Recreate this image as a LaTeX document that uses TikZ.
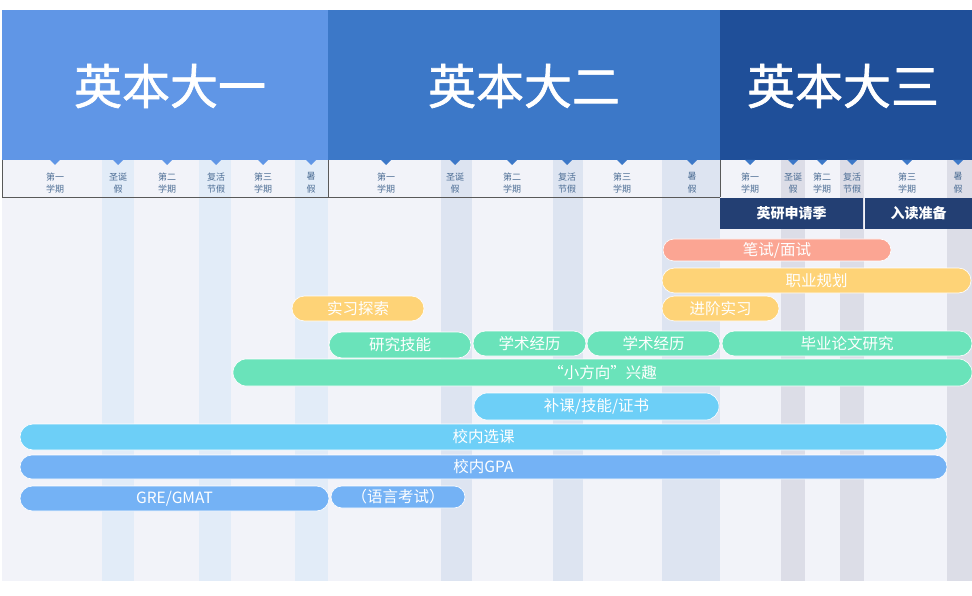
\documentclass[tikz,border=0pt]{standalone}
\usepackage{fontspec}
\setmainfont{Noto Sans CJK SC}
\newfontfamily\headfont{Noto Sans CJK SC}[FakeBold=1.3]
\usepackage{xcolor}
\usetikzlibrary{positioning, shapes.misc}

\definecolor{headA}{HTML}{6096E6}
\definecolor{headB}{HTML}{3C78C8}
\definecolor{headC}{HTML}{1F4F99}
\definecolor{panel}{HTML}{F2F3F9}
\definecolor{stripA}{HTML}{E2ECF8}
\definecolor{stripB}{HTML}{DDE4F1}
\definecolor{stripC}{HTML}{DCDDE7}
\definecolor{termtext}{HTML}{4D6E95}
\definecolor{navy}{HTML}{233F73}
\definecolor{salmon}{HTML}{FBA593}
\definecolor{sun}{HTML}{FED377}
\definecolor{mint}{HTML}{6AE3BA}
\definecolor{sky}{HTML}{6DCFF7}
\definecolor{azure}{HTML}{74B2F5}

\begin{document}
\begin{tikzpicture}[x=1pt, y=-1pt,
    bar/.style={rounded rectangle, minimum height=25, inner sep=0pt, text=white,
      draw=white, line width=0.6pt, font=\fontsize{15.5}{15.5}\selectfont},
    term/.style={align=center, text=termtext, inner sep=0pt,
      font=\fontsize{9}{12.5}\selectfont},
    year/.style={text=white, font=\headfont\fontsize{48}{48}\selectfont},
    season/.style={fill=navy, text=white, inner sep=0pt, minimum height=31,
      font=\bfseries\fontsize{14}{14}\selectfont}]
    \useasboundingbox (0,0) rectangle (972,596);

    % background and holiday columns
    \fill[panel] (2,10) rectangle (972,581);
    \foreach \a/\b/\c in {102/134/stripA, 199/231/stripA, 295/328/stripA,
        441/472/stripB, 553/583/stripB, 662/720/stripB,
        781/805/stripC, 840/864/stripC, 947/972/stripC}
        \fill[\c] (\a,160) rectangle (\b,581);

    % years
    \fill[headA] (2,10) rectangle (328,160);
    \fill[headB] (328,10) rectangle (720,160);
    \fill[headC] (720,10) rectangle (972,160);
    \node[year] (y1) at (170,86) {英本大一};
    \node[year] (y2) at (524,86) {英本大二};
    \node[year] (y3) at (843,86) {英本大三};

    % terms
    \draw[gray!70!black, line width=0.7pt] (2,160) -- (2,197) -- (720,197);
    \draw[gray!70!black, line width=0.7pt] (328,160) -- (328,197);
    \draw[gray!70!black, line width=0.7pt] (720,160) -- (720,197);
    \foreach \x/\t [count=\i] in {55/第一\\学期, 118/圣诞\\假, 167/第二\\学期,
        216/复活\\节假, 263/第三\\学期, 311/暑\\假} {
        \fill[headA] (\x-5,160) -- (\x+5,160) -- (\x,165) -- cycle;
        \node[term] (ta\i) at (\x,183) {\t};
    }
    \foreach \x/\t [count=\i] in {386/第一\\学期, 455/圣诞\\假, 512/第二\\学期,
        567/复活\\节假, 622/第三\\学期, 692/暑\\假} {
        \fill[headB] (\x-5,160) -- (\x+5,160) -- (\x,165) -- cycle;
        \node[term] (tb\i) at (\x,183) {\t};
    }
    \foreach \x/\t [count=\i] in {750/第一\\学期, 793/圣诞\\假, 822/第二\\学期,
        852/复活\\节假, 907/第三\\学期, 958/暑\\假} {
        \fill[headB] (\x-5,160) -- (\x+5,160) -- (\x,165) -- cycle;
        \node[term] (tc\i) at (\x,183) {\t};
    }
    \node[season, minimum width=143] (apply) at (791.5,213.5) {英研申请季};
    \node[season, minimum width=107] (ready) at (918.5,213.5) {入读准备};

    % tracks
    \node[bar, fill=salmon, minimum width=228, minimum height=22] (exam) at (777,250) {笔试/面试};
    \node[bar, fill=sun, minimum width=309] (career) at (816.5,280.5) {职业规划};
    \node[bar, fill=sun, minimum width=132] (intern1) at (358,308.5) {实习探索};
    \node[bar, fill=sun, minimum width=117] (intern2) at (720.5,308.5) {进阶实习};
    \node[bar, fill=mint, minimum width=142, minimum height=26] (skill) at (400,345) {研究技能};
    \node[bar, fill=mint, minimum width=113] (acad1) at (529.5,343.5) {学术经历};
    \node[bar, fill=mint, minimum width=133] (acad2) at (653.5,343.5) {学术经历};
    \node[bar, fill=mint, minimum width=250] (thesis) at (847,343.5) {毕业论文研究};
    \node[bar, fill=mint, minimum width=739, minimum height=27] (interest) at (602.5,372.5) {“小方向”兴趣};
    \node[bar, fill=sky, minimum width=245, minimum height=27] (extra) at (596.5,406.5) {补课/技能/证书};
    \node[bar, fill=sky, minimum width=927, minimum height=26] (course) at (483.5,437) {校内选课};
    \node[bar, fill=azure, minimum width=927, minimum height=24] (gpa) at (483.5,467) {校内GPA};
    \node[bar, fill=azure, minimum width=309] (gre) at (174.5,498.5) {GRE/GMAT};
    \node[bar, fill=azure, minimum width=134, minimum height=22] (lang) at (398,497) {（语言考试）};
\end{tikzpicture}
\end{document}
